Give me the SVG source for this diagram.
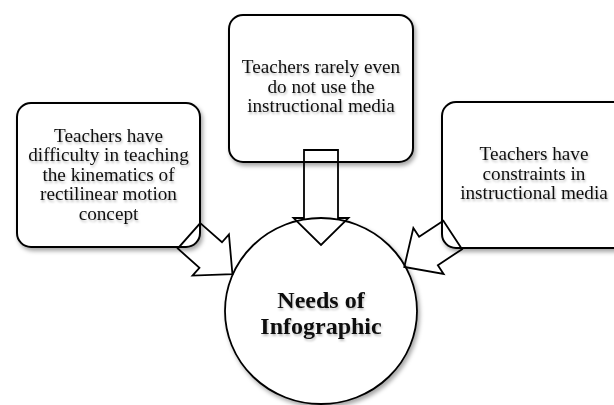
<svg xmlns="http://www.w3.org/2000/svg" width="614" height="405" viewBox="0 0 614 405">
  <defs>
    <filter id="sh" x="-20%" y="-20%" width="140%" height="140%">
      <feDropShadow dx="2" dy="3" stdDeviation="2" flood-color="#000" flood-opacity="0.35"/>
    </filter>
    <filter id="tsh" x="-10%" y="-30%" width="120%" height="160%">
      <feDropShadow dx="1" dy="2" stdDeviation="1.2" flood-color="#000" flood-opacity="0.25"/>
    </filter>
    <path id="arrow" d="M0,-17 H29 V-27.5 L58,0 L29,27.5 V17 H0 Z"/>
  </defs>
  <style>
    .box { fill: #fff; stroke: #000; stroke-width: 2; }
    .circ { fill: #fff; stroke: #000; stroke-width: 1.8; }
    .arr { fill: none; stroke: #000; stroke-width: 1.8; stroke-linejoin: miter; }
    .t { font-family: "Liberation Serif", "Times New Roman", serif; font-size: 19.2px; fill: #111; text-anchor: middle; }
    .tb { font-family: "Liberation Serif", "Times New Roman", serif; font-size: 24px; font-weight: bold; fill: #111; text-anchor: middle; }
  </style>
  <rect width="614" height="405" fill="#fff"/>

  <g id="node-left">
    <rect class="box" x="17" y="103" width="183" height="144" rx="14" filter="url(#sh)"/>
    <g filter="url(#tsh)">
      <text class="t" x="108.5" y="141.5">Teachers have</text>
      <text class="t" x="108.5" y="161">difficulty in teaching</text>
      <text class="t" x="108.5" y="180.5">the kinematics of</text>
      <text class="t" x="108.5" y="200">rectilinear motion</text>
      <text class="t" x="108.5" y="219.5">concept</text>
    </g>
  </g>

  <g id="node-top">
    <rect class="box" x="229" y="15" width="184" height="147" rx="14" filter="url(#sh)"/>
    <g filter="url(#tsh)">
      <text class="t" x="321" y="73.3">Teachers rarely even</text>
      <text class="t" x="321" y="92.7">do not use the</text>
      <text class="t" x="321" y="112">instructional media</text>
    </g>
  </g>

  <g id="node-right">
    <rect class="box" x="442" y="102" width="192" height="146" rx="14" filter="url(#sh)"/>
    <g filter="url(#tsh)">
      <text class="t" x="534" y="160">Teachers have</text>
      <text class="t" x="534" y="179.5">constraints in</text>
      <text class="t" x="534" y="199">instructional media</text>
    </g>
  </g>

  <g id="node-center">
    <ellipse class="circ" cx="321" cy="311" rx="96" ry="93" filter="url(#sh)"/>
    <g filter="url(#tsh)">
      <text class="tb" x="321" y="308">Needs of</text>
      <text class="tb" x="321" y="334">Infographic</text>
    </g>
  </g>

  <g id="connectors">
    <path class="arr" d="M304,150 H338 V218 H348.5 L321,245 L293.5,218 H304 Z"/>
    <use class="arr" href="#arrow" transform="translate(189,235.8) rotate(41.5)"/>
    <use class="arr" href="#arrow" transform="translate(452.7,235) rotate(146.6)"/>
  </g>
</svg>
